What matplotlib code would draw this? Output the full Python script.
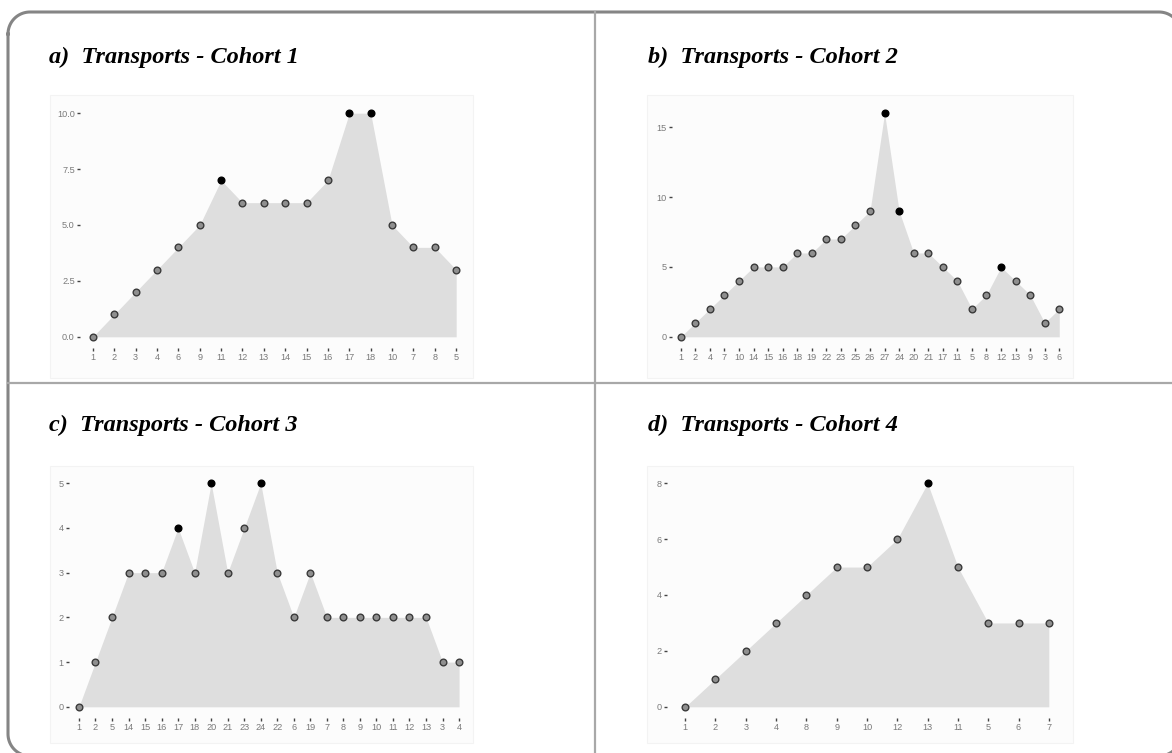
import numpy as np
import matplotlib.pyplot as plt
from matplotlib.patches import Rectangle

W, H = 1172, 753

# Transport order and counts per cohort
cohort1_labels = ['1', '2', '3', '4', '6', '9', '11', '12', '13', '14', '15', '16', '17', '18', '10', '7', '8', '5']
cohort1_values = [0, 1, 2, 3, 4, 5, 7, 6, 6, 6, 6, 7, 10, 10, 5, 4, 4, 3]
cohort1_peaks = ['11', '17', '18']

cohort2_labels = ['1', '2', '4', '7', '10', '14', '15', '16', '18', '19', '22', '23', '25', '26', '27',
                  '24', '20', '21', '17', '11', '5', '8', '12', '13', '9', '3', '6']
cohort2_values = [0, 1, 2, 3, 4, 5, 5, 5, 6, 6, 7, 7, 8, 9, 16, 9, 6, 6, 5, 4, 2, 3, 5, 4, 3, 1, 2]
cohort2_peaks = ['27', '24', '12']

cohort3_labels = ['1', '2', '5', '14', '15', '16', '17', '18', '20', '21', '23', '24', '22', '6', '19',
                  '7', '8', '9', '10', '11', '12', '13', '3', '4']
cohort3_values = [0, 1, 2, 3, 3, 3, 4, 3, 5, 3, 4, 5, 3, 2, 3, 2, 2, 2, 2, 2, 2, 2, 1, 1]
cohort3_peaks = ['17', '20', '24']

cohort4_labels = ['1', '2', '3', '4', '8', '9', '10', '12', '13', '11', '5', '6', '7']
cohort4_values = [0, 1, 2, 3, 4, 5, 5, 6, 8, 5, 3, 3, 3]
cohort4_peaks = ['13']

plt.rcParams['font.family'] = ['Liberation Sans', 'DejaVu Sans']

fig = plt.figure(figsize=(W / 100, H / 100), dpi=100)

# background layer in pixel coordinates (frame, dividers, plot backgrounds)
bg = fig.add_axes([0, 0, 1, 1], zorder=-1)
bg.set_xlim(0, W)
bg.set_ylim(H, 0)
bg.axis('off')


def rounded_frame(x0, y0, x1, y1, r):
    # outline of a rounded rectangle, corner by corner
    pts = []
    for cx, cy, a0 in [(x0 + r, y0 + r, 180), (x1 - r, y0 + r, 270),
                       (x1 - r, y1 - r, 0), (x0 + r, y1 - r, 90)]:
        t = np.radians(np.linspace(a0, a0 + 90, 20))
        pts += list(zip(cx + r * np.cos(t), cy + r * np.sin(t)))
    pts.append(pts[0])
    xs, ys = zip(*pts)
    return xs, ys


fx, fy = rounded_frame(8, 12, 1181, 756, 22)
bg.plot(fx, fy, color='#858585', lw=2.2, clip_on=True)
bg.plot([595, 595], [12, H + 5], color='#a8a8a8', lw=1.6)
bg.plot([8, W + 5], [383, 383], color='#a8a8a8', lw=1.6)


def px_box(x0, y0, x1, y1):
    # pixel box (top-left origin) -> figure fraction [left, bottom, width, height]
    return [x0 / W, 1 - y1 / H, (x1 - x0) / W, (y1 - y0) / H]


def panel(title, title_xy, bg_box, ax_box, labels, values, peaks, yticks, ytick_fmt):
    bx0, by0, bx1, by1 = bg_box
    bg.add_patch(Rectangle((bx0, by0), bx1 - bx0, by1 - by0, facecolor='#fcfcfc',
                           edgecolor='#f3f3f3', lw=0.8))
    bg.text(title_xy[0], title_xy[1], title, family='Liberation Serif',
            style='italic', weight='bold', fontsize=17.5, ha='left', va='baseline')

    ax = fig.add_axes(px_box(*ax_box))
    ax.patch.set_alpha(0)
    x = list(range(len(values)))
    ymax = max(values)
    ax.fill_between(x, 0, values, color='#dedede', lw=0, zorder=1)
    normal = [i for i, lab in enumerate(labels) if lab not in peaks]
    high = [i for i, lab in enumerate(labels) if lab in peaks]
    ax.plot(normal, [values[i] for i in normal], 'o', ms=4.8, mfc='#8f8f8f', mec='#3a3a3a',
            mew=1.0, zorder=3, clip_on=False)
    ax.plot(high, [values[i] for i in high], 'o', ms=4.8, mfc='black', mec='black',
            mew=1.0, zorder=3, clip_on=False)

    ax.set_xlim(-0.6, len(values) - 1 + 0.6)
    ax.set_ylim(-0.05 * ymax, 1.05 * ymax)
    ax.set_xticks(x)
    ax.set_xticklabels(labels)
    ax.set_yticks(yticks)
    ax.set_yticklabels([ytick_fmt.format(v) for v in yticks])
    for s in ax.spines.values():
        s.set_visible(False)
    ax.tick_params(axis='both', colors='#444444', labelcolor='#7a7a7a', labelsize=6.6,
                   length=2.2, width=1.0)
    ax.tick_params(axis='x', pad=1.5)
    ax.tick_params(axis='y', pad=1.5)
    return ax


# panel positions in pixels
panel('a)  Transports - Cohort 1', (49, 63), (50, 95, 473, 378), (80, 102, 469, 348),
      cohort1_labels, cohort1_values, cohort1_peaks, [0, 2.5, 5, 7.5, 10], '{:.1f}')
panel('b)  Transports - Cohort 2', (648, 63), (647, 95, 1073, 378), (672, 102, 1068, 348),
      cohort2_labels, cohort2_values, cohort2_peaks, [0, 5, 10, 15], '{:d}')
panel('c)  Transports - Cohort 3', (49, 431), (50, 466, 473, 743), (69, 472, 469, 718),
      cohort3_labels, cohort3_values, cohort3_peaks, [0, 1, 2, 3, 4, 5], '{:d}')
panel('d)  Transports - Cohort 4', (648, 431), (647, 466, 1073, 743), (667, 472, 1067, 718),
      cohort4_labels, cohort4_values, cohort4_peaks, [0, 2, 4, 6, 8], '{:d}')

fig.savefig('out.png', dpi=100)
